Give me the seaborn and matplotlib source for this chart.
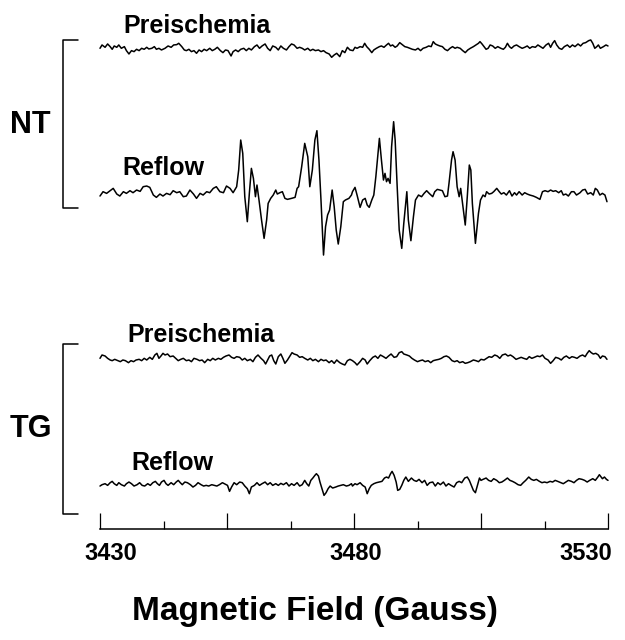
import numpy as np
import pandas as pd
import matplotlib
matplotlib.use("Agg")
import matplotlib.pyplot as plt
import matplotlib.transforms as mtransforms
from matplotlib.lines import Line2D
from matplotlib.ticker import FixedLocator, FuncFormatter
import seaborn as sns

# -- ESR spectra: (field in G, signal in a.u.)
nt_preischemia = [
    (3430.0, 0), (3430.4, 10), (3431.0, 3), (3431.5, 13), (3432.0, 5), (3432.4, -3), (3432.8, 7), (3433.3, 3),
    (3433.7, 10), (3434.2, 0), (3434.8, 5), (3435.2, -7), (3435.7, -17), (3436.2, -7), (3436.7, -10), (3437.2, -3),
    (3437.7, -7), (3438.2, 0), (3438.7, -3), (3439.2, 3), (3439.6, -2), (3440.2, 0), (3440.7, 5), (3441.1, -3),
    (3441.6, 0), (3442.1, -5), (3442.8, 0), (3443.4, 7), (3444.0, 3), (3444.5, 10), (3445.1, 11), (3445.5, 15),
    (3446.1, 5), (3446.6, -5), (3447.0, -7), (3447.5, -3), (3448.0, -10), (3448.5, -7), (3449.0, -15), (3449.5, -5),
    (3450.0, -10), (3450.5, -3), (3451.0, -7), (3451.6, 0), (3452.1, -7), (3452.6, -3), (3453.1, 3), (3453.7, -7),
    (3454.2, -13), (3454.7, -5), (3455.2, -7), (3455.8, -23), (3456.2, -10), (3456.7, -5), (3457.2, -10), (3457.7, -3),
    (3458.3, 0), (3458.8, -7), (3459.3, 0), (3459.8, -5), (3460.4, 5), (3460.9, 10), (3461.4, 0), (3461.9, 7),
    (3462.5, 13), (3463.0, 0), (3463.5, -7), (3464.0, 7), (3464.6, 3), (3465.1, -5), (3465.6, 7), (3466.1, 0),
    (3466.7, -5), (3467.2, 5), (3467.7, 13), (3468.2, 10), (3468.8, 0), (3469.3, 3), (3469.8, 0), (3470.3, -5),
    (3470.9, 0), (3471.4, -7), (3471.9, -3), (3472.4, -7), (3473.0, -5), (3473.5, -10), (3474.0, -7), (3474.5, -13),
    (3475.1, -17), (3475.6, -27), (3476.1, -20), (3476.6, -15), (3477.2, -25), (3477.7, -7), (3478.2, -13), (3478.7, 3),
    (3479.2, -5), (3479.8, -7), (3480.2, 3), (3480.6, 0), (3481.2, 5), (3481.7, 3), (3482.1, 15), (3482.5, 5),
    (3483.0, -3), (3483.5, -13), (3483.9, -5), (3484.4, 0), (3485.0, 5), (3485.4, 7), (3485.9, 3), (3486.4, 10),
    (3486.8, 15), (3487.2, 7), (3487.6, 10), (3488.1, 3), (3488.5, 7), (3489.0, 17), (3489.6, 10), (3490.0, 5),
    (3490.5, 3), (3491.0, 0), (3491.5, -3), (3492.1, -5), (3492.6, 0), (3493.1, -7), (3493.6, 0), (3494.2, 3),
    (3494.7, 7), (3495.2, 5), (3495.6, 20), (3496.0, 13), (3496.4, 10), (3496.9, 7), (3497.4, 5), (3497.9, -3),
    (3498.4, -7), (3498.9, 0), (3499.4, 5), (3499.9, 0), (3500.3, 3), (3500.9, 0), (3501.4, -7), (3501.9, -13),
    (3502.4, -5), (3502.9, 0), (3503.5, 5), (3504.0, 10), (3504.5, 15), (3504.8, 20), (3505.2, 13), (3505.6, 5),
    (3506.0, -3), (3506.4, 0), (3506.8, 10), (3507.3, 7), (3507.8, 0), (3508.3, 5), (3508.9, 0), (3509.4, -3),
    (3509.8, 3), (3510.2, 15), (3510.6, 5), (3511.0, 0), (3511.5, 7), (3512.0, 10), (3512.5, 5), (3513.1, 0),
    (3513.6, 3), (3514.1, 7), (3514.6, 0), (3515.1, 5), (3515.7, 3), (3516.2, 10), (3516.7, 5), (3517.2, 0),
    (3517.8, 10), (3518.3, 15), (3518.7, 3), (3519.1, 15), (3519.5, 23), (3519.9, 10), (3520.4, 0), (3520.9, -3),
    (3521.4, 5), (3522.0, 10), (3522.5, 3), (3523.0, 10), (3523.5, 5), (3524.1, 13), (3524.6, 7), (3525.1, 15),
    (3525.6, 17), (3526.2, 23), (3526.6, 25), (3527.0, 15), (3527.4, 0), (3527.8, 5), (3528.1, 10), (3528.5, 0),
    (3529.1, 5), (3529.6, 10), (3530.0, 7),
]

nt_reflow = [
    (3430.0, -10), (3430.6, 3), (3431.3, -2), (3432.0, 6), (3432.6, 13), (3433.3, -4), (3433.9, -10), (3434.6, 3),
    (3435.2, -2), (3435.9, 6), (3436.5, 0), (3437.2, 8), (3437.9, 4), (3438.5, 18), (3439.2, 20), (3439.8, 16),
    (3440.5, -7), (3441.1, -14), (3441.8, -4), (3442.4, -10), (3443.1, -2), (3443.8, -6), (3444.4, 6), (3445.1, 0),
    (3445.7, 3), (3446.4, -12), (3447.0, -10), (3447.7, 8), (3448.4, -4), (3449.0, -17), (3449.7, -2), (3450.3, -7),
    (3451.0, 3), (3451.6, 0), (3452.3, 13), (3452.9, 18), (3453.6, 3), (3454.3, 0), (3454.9, 20), (3455.6, 13),
    (3456.2, 0), (3456.9, 18), (3457.3, 68), (3457.7, 158), (3458.1, 118), (3458.5, -12), (3459.0, -87), (3459.4, -2),
    (3459.8, 73), (3460.2, 43), (3460.6, -12), (3460.9, 23), (3461.3, -22), (3461.8, -82), (3462.3, -137), (3462.8, -82),
    (3463.1, -32), (3463.6, -17), (3464.1, -7), (3464.6, 8), (3464.9, -4), (3465.4, 0), (3465.9, 3), (3466.4, -17),
    (3466.9, -20), (3467.7, -17), (3468.4, -14), (3468.8, 13), (3469.1, 18), (3469.7, 78), (3470.3, 148), (3470.9, 108),
    (3471.3, 18), (3471.8, 68), (3472.3, 158), (3472.7, 186), (3473.1, 98), (3473.5, -22), (3474.0, -187), (3474.4, -102),
    (3474.8, -67), (3475.2, -52), (3475.7, 8), (3476.1, -42), (3476.5, -112), (3476.9, -154), (3477.4, -102), (3477.9, -27),
    (3478.3, -22), (3479.0, -17), (3479.5, -7), (3479.7, 3), (3480.2, 16), (3480.6, -7), (3481.2, -44), (3481.7, -22),
    (3482.2, -17), (3482.6, -37), (3483.0, -44), (3483.5, -22), (3483.9, -7), (3484.3, 48), (3484.8, 128), (3485.0, 163),
    (3485.4, 98), (3485.8, 38), (3486.1, 58), (3486.4, 33), (3486.7, 43), (3487.1, 28), (3487.4, 138), (3487.8, 213),
    (3488.1, 158), (3488.5, 18), (3488.9, -112), (3489.4, -167), (3489.8, -92), (3490.4, 3), (3490.7, -82), (3491.2, -144),
    (3491.7, -72), (3492.1, -22), (3492.7, -7), (3493.3, -12), (3493.8, -2), (3494.3, 6), (3494.8, -2), (3495.5, -12),
    (3495.9, 3), (3496.4, 10), (3496.9, 8), (3497.4, 6), (3497.9, -12), (3498.4, -10), (3498.7, 28), (3499.2, 98),
    (3499.5, 123), (3499.9, 98), (3500.3, 18), (3500.7, -12), (3501.0, 13), (3501.4, -37), (3501.9, -97), (3502.3, -12),
    (3502.7, 83), (3503.0, 68), (3503.3, -32), (3503.9, -152), (3504.5, -62), (3504.9, -22), (3505.4, -7), (3505.8, -12),
    (3506.1, 3), (3506.6, -4), (3507.1, -2), (3507.5, 3), (3508.1, 13), (3508.6, 3), (3509.0, -4), (3509.5, 0),
    (3510.0, -7), (3510.6, 6), (3511.1, -10), (3511.6, 0), (3512.0, -7), (3512.5, 3), (3513.1, -7), (3513.6, 0),
    (3514.1, -4), (3514.6, -7), (3515.3, -10), (3515.9, -14), (3516.6, -20), (3517.1, 3), (3517.6, 6), (3518.2, 3),
    (3518.7, 8), (3519.2, 4), (3519.7, 6), (3520.3, 0), (3520.8, 6), (3521.2, -7), (3521.7, -4), (3522.2, -10),
    (3522.8, 3), (3523.3, 3), (3523.8, -7), (3524.5, 0), (3525.0, 8), (3525.5, 10), (3526.0, -4), (3526.6, 0),
    (3527.1, -7), (3527.5, 13), (3527.9, 8), (3528.4, -7), (3528.9, -2), (3529.4, -7), (3529.8, -27),
]

tg_preischemia = [
    (3430.0, 5), (3430.4, 15), (3431.0, 12), (3431.5, 5), (3432.0, 0), (3432.4, -2), (3432.9, 2), (3433.5, -2),
    (3434.0, -5), (3434.5, 0), (3435.0, -2), (3435.6, -8), (3436.1, -2), (3436.6, -5), (3437.1, 0), (3437.7, 2),
    (3438.2, -2), (3438.7, 5), (3439.2, 0), (3439.8, 8), (3440.3, 2), (3440.8, 15), (3441.2, 20), (3441.6, 5),
    (3442.0, 12), (3442.4, 20), (3442.8, 15), (3443.3, 18), (3443.8, 10), (3444.4, 12), (3444.9, 5), (3445.4, -2),
    (3445.9, 2), (3446.4, 5), (3447.0, -2), (3447.5, 0), (3448.0, -5), (3448.5, 5), (3449.1, 2), (3449.6, -2),
    (3450.1, 0), (3450.6, -8), (3451.2, 2), (3451.7, -2), (3452.2, 5), (3452.7, 0), (3453.3, 5), (3453.8, 2),
    (3454.3, 8), (3454.8, 12), (3455.4, 15), (3455.9, 8), (3456.4, 5), (3456.9, 10), (3457.5, 8), (3458.0, 0),
    (3458.5, 5), (3459.0, -2), (3459.6, 2), (3460.1, -5), (3460.6, 8), (3461.1, 15), (3461.7, 5), (3462.2, -2),
    (3462.6, -12), (3463.0, 0), (3463.4, 12), (3463.8, 15), (3464.2, -2), (3464.6, -12), (3465.1, 10), (3465.6, 18),
    (3466.0, 5), (3466.4, -10), (3466.9, 0), (3467.4, 12), (3467.8, 22), (3468.2, 18), (3468.8, 15), (3469.3, 8),
    (3469.8, 10), (3470.3, 5), (3470.9, 0), (3471.4, 5), (3471.9, -2), (3472.4, 2), (3473.0, -5), (3473.5, 2),
    (3474.0, -2), (3474.5, 0), (3475.1, -8), (3475.6, -2), (3476.1, -10), (3476.6, 0), (3477.2, -8), (3477.7, -12),
    (3478.2, -15), (3478.7, -2), (3479.2, 2), (3479.7, -2), (3480.2, -8), (3480.6, -15), (3481.2, -5), (3481.7, 5),
    (3482.2, 0), (3482.6, -12), (3483.1, -2), (3483.7, 8), (3484.2, 12), (3484.7, 5), (3485.2, 15), (3485.8, 10),
    (3486.3, 5), (3486.8, 12), (3487.3, 18), (3487.9, 8), (3488.4, 10), (3488.9, 22), (3489.4, 25), (3489.8, 18),
    (3490.4, 15), (3490.9, 12), (3491.4, 5), (3491.9, 0), (3492.5, -5), (3493.0, -2), (3493.5, 0), (3494.0, -5),
    (3494.6, -2), (3495.1, -8), (3495.6, -2), (3496.1, 0), (3496.7, 2), (3497.2, 5), (3497.7, 10), (3498.2, 12),
    (3498.7, 8), (3499.3, -2), (3499.8, -5), (3500.3, -2), (3500.8, -8), (3501.4, -5), (3501.9, -10), (3502.4, -8),
    (3502.9, -5), (3503.5, 0), (3504.0, -2), (3504.5, -5), (3505.0, 2), (3505.6, 0), (3506.1, 5), (3506.6, 10),
    (3507.1, 8), (3507.7, 15), (3508.2, 12), (3508.7, 5), (3509.2, 15), (3509.8, 18), (3510.3, 12), (3510.8, 15),
    (3511.3, 10), (3511.9, 2), (3512.4, 5), (3512.9, 8), (3513.4, 5), (3514.0, 2), (3514.5, 10), (3515.0, 5),
    (3515.5, 8), (3516.1, 12), (3516.6, 10), (3517.1, 15), (3517.6, 5), (3518.2, 0), (3518.7, -10), (3519.2, -2),
    (3519.7, 8), (3520.3, 5), (3520.8, 0), (3521.3, 8), (3521.8, 12), (3522.4, 5), (3522.9, 10), (3523.4, 8),
    (3523.9, 5), (3524.5, 12), (3525.0, 15), (3525.5, 10), (3525.9, 20), (3526.3, 28), (3526.7, 22), (3527.1, 18),
    (3527.6, 20), (3528.1, 15), (3528.5, 5), (3528.9, 12), (3529.4, 10), (3529.8, 2),
]

tg_reflow = [
    (3430.0, -4), (3430.4, 0), (3431.0, 3), (3431.5, -2), (3432.0, 6), (3432.4, 10), (3432.8, 3), (3433.3, -2),
    (3433.7, 6), (3434.2, 0), (3434.8, -4), (3435.2, 3), (3435.7, 8), (3436.2, 3), (3436.7, -4), (3437.3, 0),
    (3437.8, 6), (3438.3, -2), (3438.8, -4), (3439.4, 3), (3439.9, -2), (3440.4, 6), (3440.9, 10), (3441.3, 3),
    (3441.7, -2), (3442.1, 8), (3442.6, 13), (3443.0, 3), (3443.4, -2), (3444.0, 6), (3444.5, 0), (3445.0, 8),
    (3445.4, 13), (3445.8, 6), (3446.2, 0), (3446.7, 8), (3447.2, 6), (3447.8, 0), (3448.3, -7), (3448.8, -2),
    (3449.3, 6), (3449.9, 0), (3450.4, -4), (3450.9, -2), (3451.4, -4), (3452.0, 0), (3452.5, -2), (3453.0, -4),
    (3453.5, 0), (3454.1, 6), (3454.6, 2), (3455.1, -2), (3455.5, -20), (3455.9, -7), (3456.4, 6), (3456.9, 0),
    (3457.5, 8), (3458.0, 6), (3458.5, -4), (3459.0, -12), (3459.4, -27), (3459.8, -7), (3460.4, -2), (3460.9, 6),
    (3461.4, -2), (3461.9, 3), (3462.5, 8), (3463.0, 0), (3463.5, 6), (3464.0, -2), (3464.6, 3), (3465.1, -2),
    (3465.6, 4), (3466.1, 0), (3466.7, 6), (3467.2, -4), (3467.7, 3), (3468.2, -2), (3468.8, 6), (3469.3, -4),
    (3469.8, 0), (3470.3, 13), (3470.7, 3), (3471.1, -4), (3471.5, 13), (3471.9, 20), (3472.3, 28), (3472.6, 33),
    (3473.0, 26), (3473.3, 8), (3473.7, -12), (3474.1, -32), (3474.5, -24), (3474.9, -12), (3475.3, -4), (3475.8, -10),
    (3476.4, -7), (3476.9, -4), (3477.4, -2), (3477.9, 0), (3478.5, -4), (3479.0, -2), (3479.5, 3), (3479.7, -4),
    (3480.2, 3), (3480.6, 0), (3481.2, 6), (3481.7, -2), (3482.2, -7), (3482.6, -27), (3483.0, -12), (3483.4, -2),
    (3483.9, 3), (3484.4, 6), (3485.0, 8), (3485.5, 10), (3486.0, 20), (3486.4, 23), (3486.8, 20), (3487.2, 33),
    (3487.5, 40), (3487.9, 28), (3488.3, 8), (3488.6, -17), (3489.0, -14), (3489.4, -2), (3489.8, 13), (3490.2, 23),
    (3490.7, 10), (3491.3, 20), (3491.8, 13), (3492.3, 10), (3492.8, 16), (3493.4, 6), (3493.9, 13), (3494.4, -2),
    (3494.9, 6), (3495.5, 8), (3496.0, -4), (3496.5, 6), (3497.0, 0), (3497.6, 8), (3498.1, -4), (3498.6, 3),
    (3499.1, -2), (3499.7, -7), (3500.2, 6), (3500.7, 10), (3501.2, 6), (3501.8, 20), (3502.3, 23), (3502.7, 13),
    (3503.1, -2), (3503.5, -17), (3503.9, -24), (3504.3, -2), (3504.7, 20), (3505.0, 13), (3505.4, 16), (3506.0, 20),
    (3506.5, 13), (3507.0, 10), (3507.5, 18), (3508.1, 13), (3508.6, 6), (3509.1, 8), (3509.6, 13), (3510.2, 20),
    (3510.7, 13), (3511.2, 10), (3511.7, 6), (3512.3, 0), (3512.8, -2), (3513.3, 6), (3513.8, 13), (3514.4, 23),
    (3514.9, 16), (3515.4, 13), (3515.9, 16), (3516.5, 10), (3517.0, 6), (3517.5, 8), (3518.0, 6), (3518.6, 10),
    (3519.1, 8), (3519.6, 13), (3520.1, 10), (3520.7, 6), (3521.2, 3), (3521.7, 8), (3522.2, 13), (3522.8, 10),
    (3523.3, 6), (3523.8, 13), (3524.3, 18), (3524.9, 16), (3525.4, 13), (3525.9, 8), (3526.4, 13), (3527.0, 18),
    (3527.5, 13), (3528.0, 23), (3528.3, 30), (3528.5, 26), (3528.9, 18), (3529.3, 23), (3529.7, 16), (3530.0, 13),
]

group_labels = ["NT", "TG"]
trace_labels = ["Preischemia", "Reflow"]
xlabel = "Magnetic Field (Gauss)"
major_ticks = [3430, 3455, 3480, 3505, 3530]
minor_ticks = [3442.5, 3467.5, 3492.5, 3517.5]
labelled_ticks = [3430, 3480, 3530]

# -- layout (pixels of a 625x640 canvas)
W, H = 625, 640
AX_L, AX_R, AX_B = 100, 608, 529
traces = [
    (nt_preischemia, 48.3),
    (nt_reflow, 192.7),
    (tg_preischemia, 360.0),
    (tg_reflow, 484.7),
]

sns.set_style("white")
plt.rcParams["font.family"] = ["Liberation Sans", "DejaVu Sans"]
plt.rcParams["font.weight"] = "bold"
plt.rcParams["text.color"] = "black"
plt.rcParams["xtick.color"] = "black"
plt.rcParams["xtick.labelcolor"] = "black"

fig = plt.figure(figsize=(W / 100, H / 100), dpi=100)
ax = fig.add_axes([AX_L / W, 1 - AX_B / H, (AX_R - AX_L) / W, AX_B / H])

# 1 signal unit = 1/3 pixel; baseline offset puts each trace on its row
for data, base_px in traces:
    df = pd.DataFrame(data, columns=["field", "signal"])
    df["y"] = df["signal"] + (AX_B - base_px) * 3
    sns.lineplot(data=df, x="field", y="y", ax=ax, color="black", linewidth=1.1,
                 estimator=None, sort=False, clip_on=False)

ax.set_xlim(3430, 3530)
ax.set_ylim(0, AX_B * 3)
for s in ["left", "top", "right"]:
    ax.spines[s].set_visible(False)
ax.spines["bottom"].set_linewidth(1.1)
ax.spines["bottom"].set_color("black")
ax.set_yticks([])
ax.set_ylabel("")
ax.set_xlabel("")
ax.xaxis.set_major_locator(FixedLocator(major_ticks))
ax.xaxis.set_minor_locator(FixedLocator(minor_ticks))
ax.xaxis.set_major_formatter(FuncFormatter(lambda v, p: f"{v:.0f}" if v in labelled_ticks else ""))
ax.tick_params(axis="x", which="major", direction="in", length=11.5, width=0.9, color="black",
               labelcolor="black", pad=9, labelsize=17)
ax.tick_params(axis="x", which="minor", direction="in", length=5.8, width=0.9, color="black")
ax.tick_params(axis="x", which="both", bottom=True)
for lab in ax.get_xticklabels():
    lab.set_fontweight("bold")

# nudge the end labels inward like the original
shifts = {"3430": 11, "3480": 2, "3530": -22}
fig.canvas.draw()
for lab in ax.get_xticklabels():
    dx = shifts.get(lab.get_text(), 0)
    lab.set_transform(lab.get_transform() + mtransforms.ScaledTranslation(dx / 100, 0, fig.dpi_scale_trans))


def fx(px):
    return px / W


def fy(py):
    return 1 - py / H


# group brackets
for top, bot in [(40, 208), (344, 514)]:
    fig.add_artist(Line2D([fx(78), fx(63), fx(63), fx(78)], [fy(top), fy(top), fy(bot), fy(bot)],
                          color="black", linewidth=1.1))

fig.text(fx(10), fy(133), group_labels[0], fontsize=22, fontweight="bold", va="baseline", color="black")
fig.text(fx(10), fy(437), group_labels[1], fontsize=22, fontweight="bold", va="baseline", color="black")

for (x, y), txt in zip([(123, 33), (122, 175), (127, 342), (131, 470)], trace_labels * 2):
    fig.text(fx(x), fy(y), txt, fontsize=18, fontweight="bold", va="baseline", color="black")

fig.text(fx(315), fy(620), xlabel, fontsize=24, fontweight="bold", ha="center", va="baseline", color="black")

fig.savefig("out.png", dpi=100)
